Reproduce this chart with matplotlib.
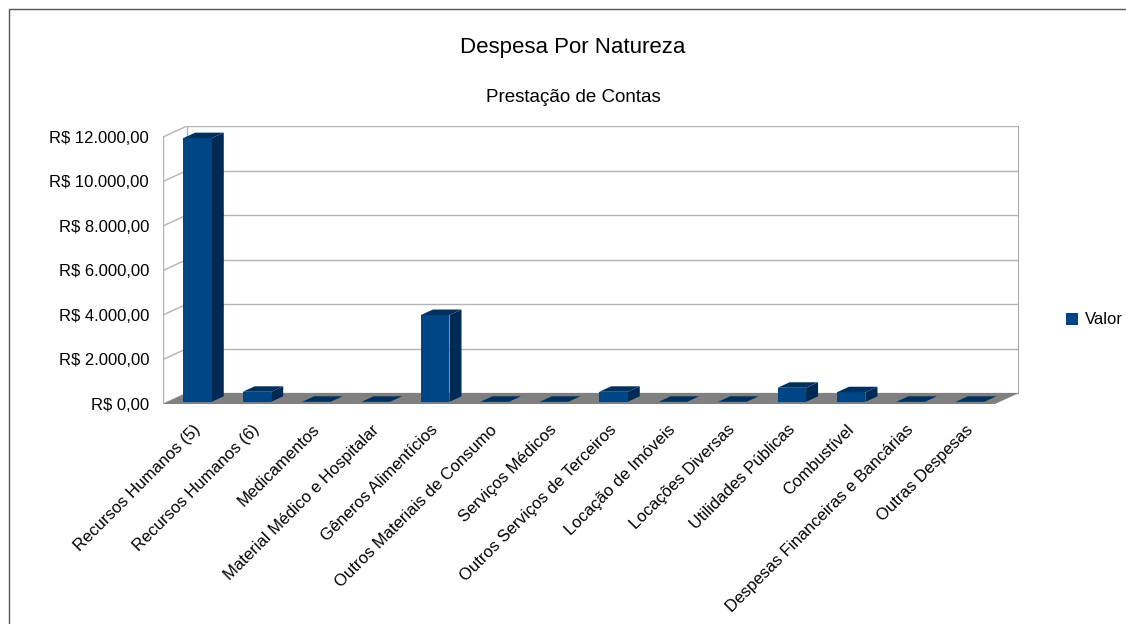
import numpy as np
import matplotlib
matplotlib.use("Agg")
import matplotlib.pyplot as plt
from matplotlib.patches import Polygon, Rectangle
from matplotlib.ticker import FuncFormatter

plt.rcParams['font.family'] = ['Liberation Sans', 'DejaVu Sans']

# data
categorias = ["Recursos Humanos (5)", "Recursos Humanos (6)", "Medicamentos",
              "Material Médico e Hospitalar", "Gêneros Alimentícios",
              "Outros Materiais de Consumo", "Serviços Médicos",
              "Outros Serviços de Terceiros", "Locação de Imóveis",
              "Locações Diversas", "Utilidades Públicas", "Combustível",
              "Despesas Financeiras e Bancárias", "Outras Despesas"]
valores = [11850, 450, 0, 0, 3900, 0, 0, 450, 0, 0, 630, 430, 0, 0]
y_ticks = [0, 2000, 4000, 6000, 8000, 10000, 12000]
serie = "Valor"

def moeda(v, pos=None):
    s = f"{v:,.2f}".replace(",", "X").replace(".", ",").replace("X", ".")
    return "R$ " + s

W, H = 1126, 624
fig = plt.figure(figsize=(W / 100, H / 100), dpi=100)

# chart frame (only top and left edges are visible in the picture)
fig.patches.append(Rectangle((9 / W, -0.1), 1.2, (H - 9) / H + 0.1, transform=fig.transFigure,
                             fill=False, edgecolor="#555555", linewidth=1.0))

n = len(categorias)
ymax = y_ticks[-1]

# pseudo 3d depth offset, in data units (24 px right, 11 px up)
px_x = (995 - 163) / n
px_y = (404 - 137) / ymax
dx = 24 / px_x
dy = 11 / px_y

left = 163 / W
bottom = (H - 404) / H
ax = fig.add_axes([left, bottom, (1019 - 163) / W, (404 - 126) / H])
ax.set_xlim(0, n + dx)
ax.set_ylim(0, ymax + dy)
for s in ax.spines.values():
    s.set_visible(False)

grid_c = "#b3b3b3"
# floor
ax.add_patch(Polygon([(0, 0), (n, 0), (n + dx, dy), (dx, dy)], closed=True,
                     facecolor="#808080", edgecolor="none", zorder=1))
# back wall + side wall grid
for v in y_ticks:
    ax.plot([dx, n + dx], [v + dy, v + dy], color=grid_c, lw=1, zorder=0.5)
    ax.plot([0, dx], [v, v + dy], color=grid_c, lw=1, zorder=0.5)
ax.plot([0, 0], [0, ymax], color=grid_c, lw=1, zorder=0.5)
ax.plot([dx, dx], [dy, ymax + dy], color=grid_c, lw=1, zorder=0.5)
ax.plot([n + dx, n + dx], [dy, ymax + dy], color="#a0a0a0", lw=1.3, zorder=0.5)

# bars
front_c = "#004586"
side_c = "#002a54"
top_c = "#00305e"
bw = 0.48
f0, f1 = 0.2, 0.7
x = np.arange(n) + 0.5 + f0 * dx
b0 = f0 * dy
ddx = (f1 - f0) * dx
ddy = (f1 - f0) * dy
ax.bar(x, valores, width=bw, bottom=b0, color=front_c, zorder=3, label=serie)
for xi, v in zip(x, valores):
    xl, xr = xi - bw / 2, xi + bw / 2
    top = b0 + v
    if v > 0:
        ax.add_patch(Polygon([(xr, b0), (xr + ddx, b0 + ddy), (xr + ddx, top + ddy), (xr, top)],
                             closed=True, facecolor=side_c, edgecolor="none", zorder=2.5))
    ax.add_patch(Polygon([(xl, top), (xr, top), (xr + ddx, top + ddy), (xl + ddx, top + ddy)],
                         closed=True, facecolor=top_c, edgecolor="none", zorder=3.5))

ax.set_yticks(y_ticks)
ax.yaxis.set_major_formatter(FuncFormatter(moeda))
ax.tick_params(axis='y', length=0, pad=10, labelsize=12, labelcolor="#000000")
ax.set_xticks(np.arange(n) + 0.5)
ax.set_xticklabels(categorias, rotation=45, ha='right', va='top', rotation_mode='anchor')
ax.tick_params(axis='x', length=0, pad=13, labelsize=12)

fig.text(573 / W, 1 - 47 / H, "Despesa Por Natureza", ha='center', va='center', fontsize=16)
fig.text(573 / W, 1 - 98 / H, "Prestação de Contas", ha='center', va='center', fontsize=13.5)

fig.legend(loc='center left', bbox_to_anchor=(1063 / W, 1 - 320 / H), frameon=False,
           fontsize=12, handlelength=0.7, handleheight=0.7, handletextpad=0.4,
           borderpad=0.2, borderaxespad=0)

fig.savefig("out.png", dpi=100)
